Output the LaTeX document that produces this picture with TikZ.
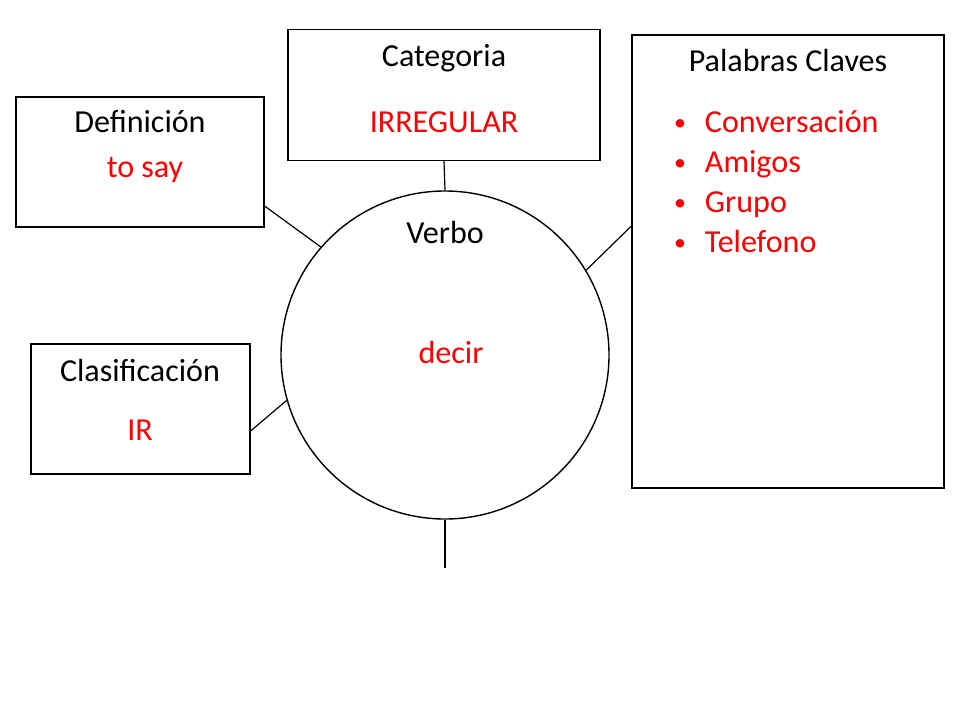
\documentclass[tikz,border=0pt]{standalone}
\usepackage{fontspec}
\setmainfont{Carlito}
\begin{document}
\begin{tikzpicture}[x=1cm,y=1cm,
  box/.style={draw,line width=0.3mm,minimum width=#1},
  lbl/.style={font=\fontsize{22.8}{26}\selectfont},
  red lbl/.style={lbl,text=red},
  link/.style={draw,line width=0.3mm}]
\useasboundingbox (0,0) rectangle (24,18);
\node[box=7.8cm,minimum height=3.275cm] at (11.1,15.625) (cat) {};
\node[box=6.2cm,minimum height=3.25cm] at (3.5,13.95) (def) {};
\node[box=5.475cm,minimum height=3.25cm] at (3.5125,7.775) (clas) {};
\node[box=7.8cm,minimum height=11.325cm] at (19.7,11.4625) (pal) {};
\node[circle,draw,line width=0.35mm,minimum size=8.2cm] at (11.125,9.125) (verbo) {};
\coordinate (tail) at ([yshift=-1.2cm]verbo.south);
% textos
\node[lbl] at (11.1,16.55) (catT) {Categoria};
\node[red lbl] at (11.1,14.95) (catV) {IRREGULAR};
\node[lbl] at (3.5,14.95) (defT) {Definición};
\node[red lbl] at (3.625,13.75) (defV) {to say};
\node[lbl] at (3.5,8.75) (clasT) {Clasificación};
\node[red lbl] at (3.5,7.25) (clasV) {IR};
\node[lbl] at (19.7,16.5) (palT) {Palabras Claves};
\foreach \w [count=\i] in {Conversación,Amigos,Grupo,Telefono}{
  \node[red lbl,anchor=base west] at (17.5,15.695-\i) (p\i) {\w};
  \node[text=red,font=\fontsize{17}{20}\selectfont,anchor=base] at (17,15.745-\i) (b\i) {•};
}
\node[lbl] at (11.125,12.2) (verboT) {Verbo};
\node[red lbl] at (11.275,9.2) (decir) {decir};
% conectores
\draw[link] (cat.south) -- (verbo.north);
\draw[link] ([yshift=-1.1cm]def.east) -- (verbo.139.4);
\draw[link] ([yshift=-0.55cm]clas.east) -- (verbo.196);
\draw[link] ([yshift=0.8875cm]pal.west) -- (verbo.31.3);
\draw[link] (verbo.south) -- (tail);
\end{tikzpicture}
\end{document}
